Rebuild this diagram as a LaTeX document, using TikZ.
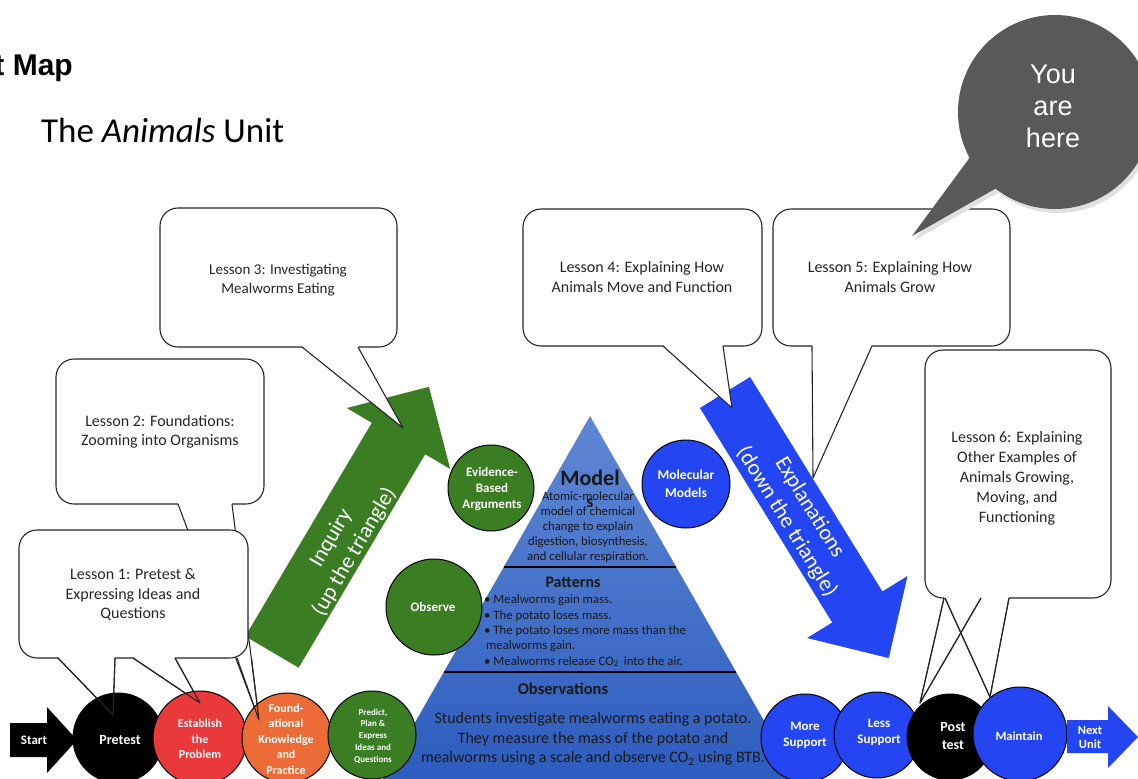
\documentclass[tikz,border=0pt]{standalone}
\usepackage{fontspec}
\setmainfont{Carlito}
\newfontfamily\arialfont{Liberation Sans}

\definecolor{inqgreen}{RGB}{58,125,34}
\definecolor{expblue}{RGB}{36,70,242}
\definecolor{estred}{RGB}{233,57,58}
\definecolor{foundorange}{RGB}{237,107,55}
\definecolor{tritop}{RGB}{95,135,212}
\definecolor{tribot}{RGB}{44,92,190}
\definecolor{heregray}{RGB}{89,89,89}

\tikzset{
  callout/.style={draw=black!85, fill=white, line width=1.1pt, rounded corners=18pt},
  tail/.style={draw=black!85, line width=1.1pt, line join=round},
  lessontext/.style={align=center, text=black!85, font=\fontsize{16}{19.5}\selectfont},
  stage/.style={circle, draw=black, line width=1pt, inner sep=0pt},
  stagetext/.style={align=center, text=white, inner sep=0pt, font=\bfseries\fontsize{12}{15.5}\selectfont},
  arrowtext/.style={align=center, text=white, font=\fontsize{22}{27}\selectfont},
  tritext/.style={align=center, text=black!90, inner sep=0pt},
}

\begin{document}
\begin{tikzpicture}[x=1pt, y=-1pt]
\useasboundingbox (0,0) rectangle (1138,779);

% Titles
\node[anchor=east, inner sep=0pt, font=\arialfont\bfseries\fontsize{30}{34}\selectfont] (maptitle) at (73,68) {Unit Map};
\node[anchor=west, inner sep=0pt, font=\fontsize{35}{40}\selectfont] (unittitle) at (41,130) {The \textit{Animals} Unit};

% Inquiry and explanation arrows
\fill[inqgreen] (245.3,636.3) -- (371.8,422.8) -- (346.8,408.0) -- (429.0,386.8) -- (450.2,469.0) -- (425.2,454.2) -- (298.7,667.7) -- cycle;
\node[arrowtext, rotate=59.5] (inquiry) at (343,545) {Inquiry\\(up the triangle)};
\fill[expblue] (699.9,408.0) -- (832.2,622.5) -- (807.1,638.0) -- (888.8,658.1) -- (907.5,576.0) -- (882.4,591.5) -- (750.1,377.0) -- cycle;
\node[arrowtext, rotate=-58.3] (explain) at (798,515) {Explanations\\(down the triangle)};

% The triangle: models, patterns, observations
\shade[top color=tritop, bottom color=tribot] (590,416) -- (381,782) -- (799,782) -- cycle;
\draw[line width=1.2pt] (504,567) -- (676,567);
\draw[line width=1.2pt] (444,672) -- (736,672);
\node[tritext, font=\bfseries\fontsize{22}{24}\selectfont] (models) at (590,478) {Model};
\node[tritext, font=\bfseries\fontsize{17}{20}\selectfont] (models-s) at (590,503) {s};
\node[tritext, font=\fontsize{12.7}{15}\selectfont] (modeltext) at (588,527) {Atomic-molecular\\model of chemical\\change to explain\\digestion, biosynthesis,\\and cellular respiration.};
\node[tritext, font=\bfseries\fontsize{16}{18}\selectfont] (patterns) at (573,582) {Patterns};
\node[tritext, align=left, anchor=west, font=\fontsize{12.8}{15.3}\selectfont] (patterntext) at (484,631) {• Mealworms gain mass.\\• The potato loses mass.\\• The potato loses more mass than the\\\hspace{2pt}mealworms gain.\\• Mealworms release CO\textsubscript{2}\, into the air.};
\node[tritext, font=\bfseries\fontsize{16.5}{18}\selectfont] (observations) at (563,689) {Observations};
\node[tritext, font=\fontsize{16}{19.5}\selectfont] (obstext) at (593,739) {Students investigate mealworms eating a potato.\\They measure the mass of the potato and\\mealworms using a scale and observe CO\textsubscript{2} using BTB.};

% Circles around the triangle
\node[stage, fill=inqgreen, minimum size=86pt] (evidence) at (491,488) {};
\node[stagetext, font=\bfseries\fontsize{13}{16}\selectfont] (evidence-t) at (492,489) {Evidence-\\Based\\Arguments};
\node[stage, fill=expblue, minimum size=88pt] (molecular) at (686,484) {};
\node[stagetext, font=\bfseries\fontsize{13.5}{18}\selectfont] (molecular-t) at (686,484) {Molecular\\Models};
\node[stage, fill=inqgreen, minimum size=96pt] (observe) at (434,607) {};
\node[stagetext, font=\bfseries\fontsize{13}{16}\selectfont] (observe-t) at (433,607) {Observe};

% Lesson callouts
\draw[callout] (56,359) rectangle (264,504);
\fill[white] (178,503) -- (259,720) -- (232,503) -- cycle;
\draw[tail] (178,504) -- (259,720) -- (232,504);
\node[lessontext] (lesson2) at (160,432) {Lesson 2: Foundations:\\Zooming into Organisms};

\draw[callout] (19,530) rectangle (248,658);
\fill[white] (58,657) -- (113,715) -- (115,657) -- cycle;
\fill[white] (133,657) -- (200,703) -- (175,657) -- cycle;
\draw[tail] (58,658) -- (113,715) -- (115,658);
\draw[tail] (133,658) -- (200,703) -- (175,658);
\node[lessontext] (lesson1) at (133,595) {Lesson 1: Pretest \&\\Expressing Ideas and\\Questions};

\draw[callout] (160,208) rectangle (397,347);
\fill[white] (302,346) -- (403,428) -- (358,346) -- cycle;
\draw[tail] (302,347) -- (403,428) -- (358,347);
\node[lessontext, font=\fontsize{15}{19.5}\selectfont] (lesson3) at (278,280) {Lesson 3: Investigating\\Mealworms Eating};

\draw[callout] (523,209) rectangle (762,346);
\fill[white] (663,345) -- (732,408) -- (723,345) -- cycle;
\draw[tail] (663,346) -- (732,408) -- (723,346);
\node[lessontext] (lesson4) at (642,277) {Lesson 4: Explaining How\\Animals Move and Function};

\draw[callout] (773,209) rectangle (1010,346);
\fill[white] (812,345) -- (813,478) -- (872,345) -- cycle;
\draw[tail] (812,346) -- (813,478) -- (872,346);
\node[lessontext] (lesson5) at (890,277) {Lesson 5: Explaining How\\Animals Grow};

\draw[callout] (925,350) rectangle (1111,598);
\fill[white] (944,597) -- (920,703) -- (981,597) -- cycle;
\fill[white] (945,597) -- (990,697) -- (1009,597) -- cycle;
\draw[tail] (944,598) -- (920,703) -- (981,598);
\draw[tail] (945,598) -- (990,697) -- (1009,598);
\node[lessontext, font=\fontsize{16}{20}\selectfont] (lesson6) at (1017,478) {Lesson 6: Explaining\\Other Examples of\\Animals Growing,\\Moving, and\\Functioning};

% You are here
\fill[black!12] (1058,116) circle (97);
\fill[black!12] (915,240) -- (979.4,152.6) -- (1004.1,189.4) -- cycle;
\fill[heregray] (1055,112) circle (97);
\fill[heregray] (912,236) -- (976.4,148.6) -- (1001.1,185.4) -- cycle;
\node[align=center, text=white, font=\arialfont\fontsize{27}{32}\selectfont] (here) at (1053,106) {You\\are\\here};

% Bottom row of stages
\fill[black] (10,723) -- (47,723) -- (47,707) -- (77,740) -- (47,773) -- (47,757) -- (10,757) -- cycle;
\node[stagetext, font=\bfseries\fontsize{13}{15}\selectfont] (start) at (34,740) {Start};
\node[stage, fill=black, minimum size=90pt] (pretest) at (118,738) {};
\node[stagetext, font=\bfseries\fontsize{14}{16}\selectfont] (pretest-t) at (120,740) {Pretest};
\node[stage, fill=estred, minimum size=94pt] (establish) at (200,738) {};
\node[stagetext] (establish-t) at (200,739) {Establish\\the\\Problem};
\node[stage, fill=foundorange, minimum size=90pt] (found) at (287,738) {};
\node[stagetext] (found-t) at (286,739) {Found-\\ational\\Knowledge\\and\\Practice};
\node[stage, fill=inqgreen, minimum size=88pt] (predict) at (372,735) {};
\node[stagetext, font=\bfseries\fontsize{9}{11.7}\selectfont] (predict-t) at (373,736) {Predict,\\Plan \&\\Express\\Ideas and\\Questions};

\node[stage, fill=expblue, minimum size=88pt] (moresup) at (805,738) {};
\node[stagetext, font=\bfseries\fontsize{13}{16}\selectfont] (moresup-t) at (805,735) {More\\Support};
\node[stage, fill=expblue, minimum size=86pt] (lesssup) at (877,735) {};
\node[stagetext, font=\bfseries\fontsize{13}{16}\selectfont] (lesssup-t) at (879,732) {Less\\Support};
\node[stage, fill=black, minimum size=86pt] (posttest) at (950,737) {};
\node[stagetext, font=\bfseries\fontsize{14}{18}\selectfont] (posttest-t) at (953,736) {Post\\test};
\node[stage, fill=expblue, minimum size=94pt] (maintain) at (1020,734) {};
\node[stagetext, font=\bfseries\fontsize{12.5}{15}\selectfont] (maintain-t) at (1019,736) {Maintain};
\fill[expblue] (1067,720) -- (1108,720) -- (1108,706) -- (1138,737) -- (1108,768) -- (1108,753) -- (1067,753) -- cycle;
\node[stagetext, font=\bfseries\fontsize{12.5}{14}\selectfont] (nextunit) at (1090,737) {Next\\Unit};

% Tail ends that reach into the stages
\draw[tail] (58,658) -- (113,715) -- (115,658);
\draw[tail] (133,658) -- (200,703) -- (175,658);
\draw[tail] (237,658) -- (259,720) -- (251.5,658);
\draw[tail] (944,598) -- (920,703) -- (981,598);
\draw[tail] (945,598) -- (990,697) -- (1009,598);
\end{tikzpicture}
\end{document}
